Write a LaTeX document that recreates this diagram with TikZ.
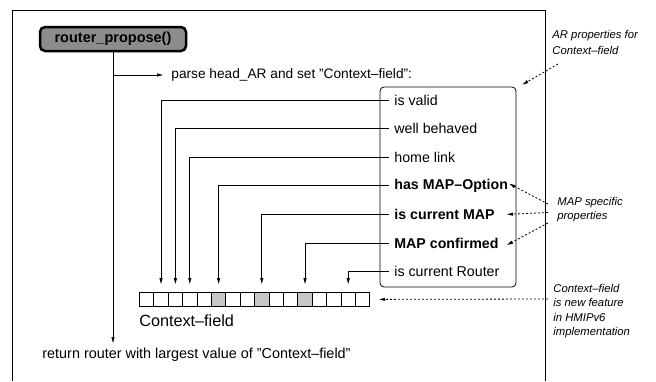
\documentclass[tikz,border=0pt]{standalone}
\usepackage{fontspec}
\setmainfont{Liberation Sans}
\usetikzlibrary{arrows.meta,calc}
\newcommand{\dq}{\symbol{34}}
\tikzset{
  x=1pt,y=-1pt,
  every path/.style={line width=0.8pt},
  tip/.style={-{Triangle[length=6pt,width=3pt]}},
  dtip/.style={-{Triangle[length=6pt,width=3pt]},dash pattern=on 2pt off 2pt},
  item/.style={anchor=west,inner sep=0pt,font=\fontsize{14.2}{16}\selectfont},
  bitem/.style={item,font=\fontsize{14.2}{16}\selectfont\bfseries},
  note/.style={anchor=north west,inner sep=0pt,align=left,font=\fontsize{11.3}{14.4}\selectfont\itshape},
  cell/.style={draw,minimum width=14.4pt,minimum height=14pt,inner sep=0pt,anchor=north west},
  plain/.style={anchor=west,inner sep=0pt,font=\fontsize{13.7}{15}\selectfont},
}
\begin{document}
\begin{tikzpicture}
\useasboundingbox (0,0) rectangle (656,381);
% frame
\draw (12,381) -- (12,10) -- (545,10) -- (545,381);
% router node
\node[draw,line width=2.5pt,rounded corners=5pt,fill=black!45,minimum width=146pt,minimum height=24pt,inner sep=0pt,font=\fontsize{14.5}{16}\selectfont\bfseries] (rp) at (113,39) {router\_propose()};
\coordinate (endp) at (113,343);
\coordinate (br) at (113,75);
\draw[tip] (rp.south) -- (endp);
\node[plain] (parse) at (171,75) {parse head\_AR and set \dq Context--field\dq :};
\draw[tip,shorten >=8pt] (br) -- (parse.west);
\node[plain,font=\fontsize{14.4}{16}\selectfont] (ret) at (42,355) {return router with largest value of \dq Context--field\dq};
% box
\node[draw,rounded corners=4pt,minimum width=136pt,minimum height=200pt,inner sep=0pt] (box) at (448,187) {};
% cells
\foreach \i in {0,...,15} {
  \node[cell] (c\i) at ({139+14.4*\i},292) {};
}
\foreach \i in {5,8,11} {
  \node[cell,fill=black!22] at ({139+14.4*\i},292) {};
}
\node[anchor=north west,inner sep=0pt,font=\fontsize{16.2}{18}\selectfont] (cf) at (139,314) {Context--field};
% items
\node[item] (i1) at (394,100) {is valid};
\node[item] (i2) at (394,128.6) {well behaved};
\node[item] (i3) at (394,157.2) {home link};
\node[bitem] (i4) at (394,185.8) {has MAP--Option};
\node[bitem] (i5) at (394,214.4) {is current MAP};
\node[bitem] (i6) at (394,243) {MAP confirmed};
\node[item] (i7) at (394,271.6) {is current Router};
\foreach \a/\c in {i1/c1,i2/c2,i3/c3,i4/c5,i5/c8,i6/c11,i7/c14} {
  \draw[tip,shorten >=8pt] ([xshift=-5pt]\a.west) -| (\c.north);
}
% notes
\node[note,font=\fontsize{11.3}{16}\selectfont\itshape] (n1) at (552,30) {AR properties for\\Context--field};
\coordinate (n1s) at (558,64);
\draw[dtip] (n1s) -- ([xshift=6pt,yshift=2pt]box.north east);
\node[note] (n2) at (557,197) {MAP specific\\properties};
\coordinate (m1) at (548,204);
\coordinate (m2) at (548,212.5);
\coordinate (m3) at (548,223);
\draw[dtip] (m1) -- ([xshift=1pt,yshift=2pt]i4.east);
\draw[dtip] (m2) -- ([xshift=12pt]i5.east);
\draw[dtip] (m3) -- ([xshift=8pt,yshift=-2pt]i6.east);
\node[note] (n3) at (553,284) {Context--field\\is new feature\\in HMIPv6\\implementation};
\coordinate (ns) at (548,299);
\draw[dtip,shorten >=9pt] (ns) -- (c15.east);
\end{tikzpicture}
\end{document}
